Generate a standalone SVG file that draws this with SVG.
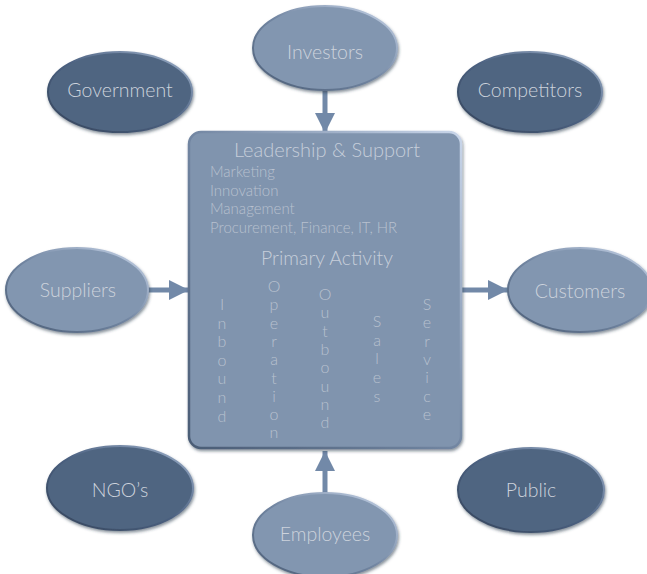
<svg xmlns="http://www.w3.org/2000/svg" width="647" height="574" viewBox="0 0 647 574">
  <defs>
    <linearGradient id="bevelLight" x1="0" y1="1" x2="1" y2="0">
      <stop offset="0" stop-color="#4a5c75"/>
      <stop offset="0.5" stop-color="#7286a2"/>
      <stop offset="1" stop-color="#c9d6ea"/>
    </linearGradient>
    <linearGradient id="bevelDark" x1="0" y1="1" x2="1" y2="0">
      <stop offset="0" stop-color="#34445a"/>
      <stop offset="0.5" stop-color="#4b6080"/>
      <stop offset="1" stop-color="#9fb2cc"/>
    </linearGradient>
    <filter id="shadow" x="-10%" y="-10%" width="125%" height="130%">
      <feDropShadow dx="1" dy="2" stdDeviation="1.5" flood-color="#2c3a4d" flood-opacity="0.55"/>
    </filter>
    <marker id="head" viewBox="0 0 10 10" refX="10" refY="5" markerWidth="4" markerHeight="4" markerUnits="strokeWidth" orient="auto">
      <path d="M0,0 L10,5 L0,10 z" fill="#7289a8"/>
    </marker>
  </defs>
  <style>
    .light { fill: #8296b0; stroke: url(#bevelLight); stroke-width: 2; filter: url(#shadow); }
    .dark { fill: #4f6581; stroke: url(#bevelDark); stroke-width: 2; filter: url(#shadow); }
    .lbl { font-family: Lato, "Open Sans", "Liberation Sans", sans-serif; font-weight: 300; font-size: 19.5px; fill: #cdd3dc; text-anchor: middle; }
    .box { fill: #8094ae; stroke: url(#bevelLight); stroke-width: 2.5; filter: url(#shadow); }
    .head { font-family: Lato, "Open Sans", "Liberation Sans", sans-serif; font-weight: 300; font-size: 20px; fill: #c6cedA; text-anchor: middle; }
    .sub { font-family: Lato, "Open Sans", "Liberation Sans", sans-serif; font-weight: 300; font-size: 15px; fill: #b8c1cf; }
    .vert { font-family: Lato, "Open Sans", "Liberation Sans", sans-serif; font-weight: 300; font-size: 16px; fill: #b8c1cf; text-anchor: middle; }
    .conn { stroke: #7289a8; stroke-width: 5; fill: none; marker-end: url(#head); }
  </style>

  <!-- connectors -->
  <g id="connectors">
    <line class="conn" x1="325" y1="91" x2="325" y2="133"/>
    <line class="conn" x1="148" y1="290" x2="189" y2="290"/>
    <line class="conn" x1="461" y1="290" x2="508" y2="290"/>
    <line class="conn" x1="325" y1="493" x2="325" y2="451"/>
  </g>

  <!-- central value chain block -->
  <g id="core">
    <rect class="box" x="189" y="132" width="272" height="316" rx="12" ry="12"/>
    <text class="head" x="327" y="157">Leadership &amp; Support</text>
    <text class="sub" x="210" y="177">Marketing</text>
    <text class="sub" x="210" y="195.5">Innovation</text>
    <text class="sub" x="210" y="214">Management</text>
    <text class="sub" x="210" y="232.5">Procurement, Finance, IT, HR</text>
    <text class="head" x="327" y="265" style="font-size:19.5px">Primary Activity</text>
    <!-- vertical activity columns -->
    <text class="vert" x="222">
      <tspan x="222" y="310">I</tspan><tspan x="222" dy="18.6">n</tspan><tspan x="222" dy="18.6">b</tspan><tspan x="222" dy="18.6">o</tspan><tspan x="222" dy="18.6">u</tspan><tspan x="222" dy="18.6">n</tspan><tspan x="222" dy="18.6">d</tspan>
    </text>
    <text class="vert" x="274">
      <tspan x="274" y="292">O</tspan><tspan x="274" dy="18.3">p</tspan><tspan x="274" dy="18.3">e</tspan><tspan x="274" dy="18.3">r</tspan><tspan x="274" dy="18.3">a</tspan><tspan x="274" dy="18.3">t</tspan><tspan x="274" dy="18.3">i</tspan><tspan x="274" dy="18.3">o</tspan><tspan x="274" dy="18.3">n</tspan>
    </text>
    <text class="vert" x="325">
      <tspan x="325" y="300">O</tspan><tspan x="325" dy="18.3">u</tspan><tspan x="325" dy="18.3">t</tspan><tspan x="325" dy="18.3">b</tspan><tspan x="325" dy="18.3">o</tspan><tspan x="325" dy="18.3">u</tspan><tspan x="325" dy="18.3">n</tspan><tspan x="325" dy="18.3">d</tspan>
    </text>
    <text class="vert" x="377">
      <tspan x="377" y="327">S</tspan><tspan x="377" dy="18.7">a</tspan><tspan x="377" dy="18.7">l</tspan><tspan x="377" dy="18.7">e</tspan><tspan x="377" dy="18.7">s</tspan>
    </text>
    <text class="vert" x="427">
      <tspan x="427" y="310">S</tspan><tspan x="427" dy="18.3">e</tspan><tspan x="427" dy="18.3">r</tspan><tspan x="427" dy="18.3">v</tspan><tspan x="427" dy="18.3">i</tspan><tspan x="427" dy="18.3">c</tspan><tspan x="427" dy="18.3">e</tspan>
    </text>
  </g>

  <!-- stakeholders -->
  <g id="investors">
    <ellipse class="light" cx="325" cy="48" rx="72" ry="42"/>
    <text class="lbl" x="325" y="59">Investors</text>
  </g>
  <g id="government">
    <ellipse class="dark" cx="120" cy="92" rx="72" ry="40"/>
    <text class="lbl" x="120" y="97">Government</text>
  </g>
  <g id="competitors">
    <ellipse class="dark" cx="530" cy="92" rx="72" ry="40"/>
    <text class="lbl" x="530" y="97">Competitors</text>
  </g>
  <g id="suppliers">
    <ellipse class="light" cx="77" cy="290" rx="71" ry="42"/>
    <text class="lbl" x="78" y="297">Suppliers</text>
  </g>
  <g id="customers">
    <ellipse class="light" cx="580" cy="290" rx="72" ry="42"/>
    <text class="lbl" x="580" y="298">Customers</text>
  </g>
  <g id="ngos">
    <ellipse class="dark" cx="120" cy="488" rx="73" ry="42"/>
    <text class="lbl" x="120" y="497">NGO’s</text>
  </g>
  <g id="public">
    <ellipse class="dark" cx="531" cy="490" rx="73" ry="42"/>
    <text class="lbl" x="531" y="497">Public</text>
  </g>
  <g id="employees">
    <ellipse class="light" cx="325" cy="535" rx="72" ry="42"/>
    <text class="lbl" x="325" y="541">Employees</text>
  </g>
</svg>
